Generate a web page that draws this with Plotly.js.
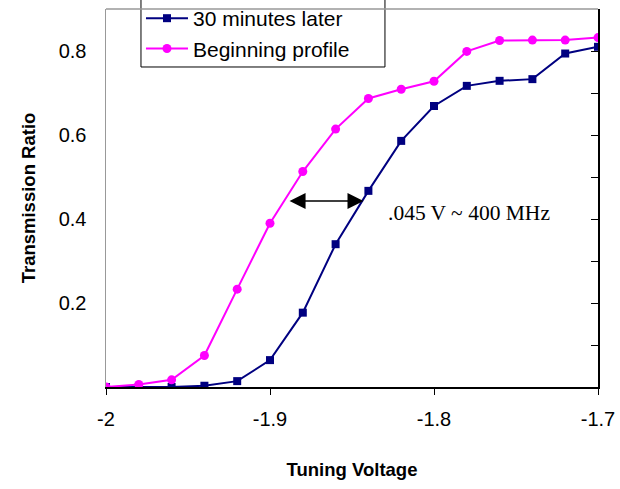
<!DOCTYPE html>
<html>
<head>
<meta charset="utf-8">
<script src="https://cdn.plot.ly/plotly-3.0.1.min.js"></script>
<style>
html,body{margin:0;padding:0;background:#fff;}
#chart{width:620px;height:489px;}
</style>
</head>
<body>
<div id="chart"></div>
<script>
// ---- data ----
var voltage = [-2.00, -1.98, -1.96, -1.94, -1.92, -1.90, -1.88, -1.86, -1.84, -1.82, -1.80, -1.78, -1.76, -1.74, -1.72, -1.70];
var later30 = [0.000, 0.000, 0.000, 0.003, 0.014, 0.064, 0.177, 0.340, 0.467, 0.586, 0.669, 0.717, 0.729, 0.733, 0.794, 0.810];
var beginning = [0.000, 0.006, 0.017, 0.075, 0.233, 0.390, 0.513, 0.614, 0.687, 0.709, 0.728, 0.799, 0.825, 0.826, 0.826, 0.832];
var seriesNames = ['30 minutes later', 'Beginning profile'];
var xTickVals = [-2, -1.9, -1.8, -1.7];
var xTickText = ['-2', '-1.9', '-1.8', '-1.7'];
var yTickVals = [0.2, 0.4, 0.6, 0.8];
var yTickText = ['0.2', '0.4', '0.6', '0.8'];
var arrowFrom = [-1.889, 0.443];
var arrowTo = [-1.843, 0.443];
var noteText = '.045 V ~ 400 MHz';
var notePos = [-1.829, 0.414];

var traces = [
  {x: voltage, y: later30, name: seriesNames[0], type: 'scatter', mode: 'lines+markers',
   line: {color: '#000080', width: 2}, marker: {symbol: 'square', size: 8, color: '#000080'}},
  {x: voltage, y: beginning, name: seriesNames[1], type: 'scatter', mode: 'lines+markers',
   line: {color: '#FF00FF', width: 2}, marker: {symbol: 'circle', size: 9, color: '#FF00FF'}},
  {x: [voltage[0]], y: [0], yaxis: 'y2', type: 'scatter', mode: 'markers', showlegend: false,
   hoverinfo: 'skip', marker: {opacity: 0}}
];

var layout = {
  width: 620, height: 489,
  margin: {l: 106, r: 22, t: 9, b: 102, autoexpand: false},
  paper_bgcolor: '#fff', plot_bgcolor: '#fff',
  font: {family: 'Liberation Sans, Arial, sans-serif', color: '#000'},
  showlegend: true,
  legend: {x: 0.0711, y: 1.029, xanchor: 'left', yanchor: 'top', bgcolor: 'rgba(0,0,0,0)',
           borderwidth: 0, font: {size: 21, color: '#000'}, itemwidth: 42, tracegroupgap: 0},
  xaxis: {range: [-2, -1.7], tickvals: xTickVals, ticktext: xTickText, showgrid: false, zeroline: false,
          showline: true, linecolor: '#000', linewidth: 1.5, ticks: 'outside', ticklen: 6, tickcolor: '#000',
          tickfont: {size: 20}, ticklabelstandoff: 7,
          title: {text: '<b>Tuning Voltage</b>', font: {size: 18.5}, standoff: 34}},
  yaxis: {range: [0, 0.9], tickvals: yTickVals, ticktext: yTickText, showgrid: false, zeroline: false,
          showline: true, linecolor: '#999', linewidth: 1.5, ticks: '', tickfont: {size: 20},
          ticklabelstandoff: 14,
          title: {text: '<b>Transmission Ratio</b>', font: {size: 18.5}, standoff: 18}},
  yaxis2: {range: [0, 0.9], overlaying: 'y', side: 'right', dtick: 0.1, tick0: 0, showgrid: false,
           zeroline: false, showline: true, linecolor: '#000', linewidth: 1.5, ticks: 'inside',
           ticklen: 7, tickcolor: '#000', showticklabels: false},
  shapes: [
    {type: 'line', xref: 'paper', yref: 'paper', x0: 0, x1: 1, y0: 1, y1: 1,
     line: {color: '#999', width: 1.5}},
    {type: 'rect', xref: 'paper', yref: 'paper', x0: 0.0711, x1: 0.567, y0: 0.8466, y1: 1.03,
     line: {color: '#000', width: 1}, fillcolor: '#fff', layer: 'below'}
  ],
  annotations: [
    {x: arrowTo[0], y: arrowTo[1], ax: arrowFrom[0], ay: arrowFrom[1], xref: 'x', yref: 'y',
     axref: 'x', ayref: 'y', text: '', showarrow: true, arrowhead: 2, arrowside: 'end+start',
     arrowsize: 2, arrowwidth: 1.6, arrowcolor: '#000'},
    {x: notePos[0], y: notePos[1], xref: 'x', yref: 'y', text: noteText, showarrow: false,
     xanchor: 'left', yanchor: 'middle', font: {family: 'Liberation Serif, Times New Roman, serif', size: 21.5, color: '#000'}}
  ]
};

Plotly.newPlot('chart', traces, layout, {displayModeBar: false, staticPlot: true});
</script>
</body>
</html>
